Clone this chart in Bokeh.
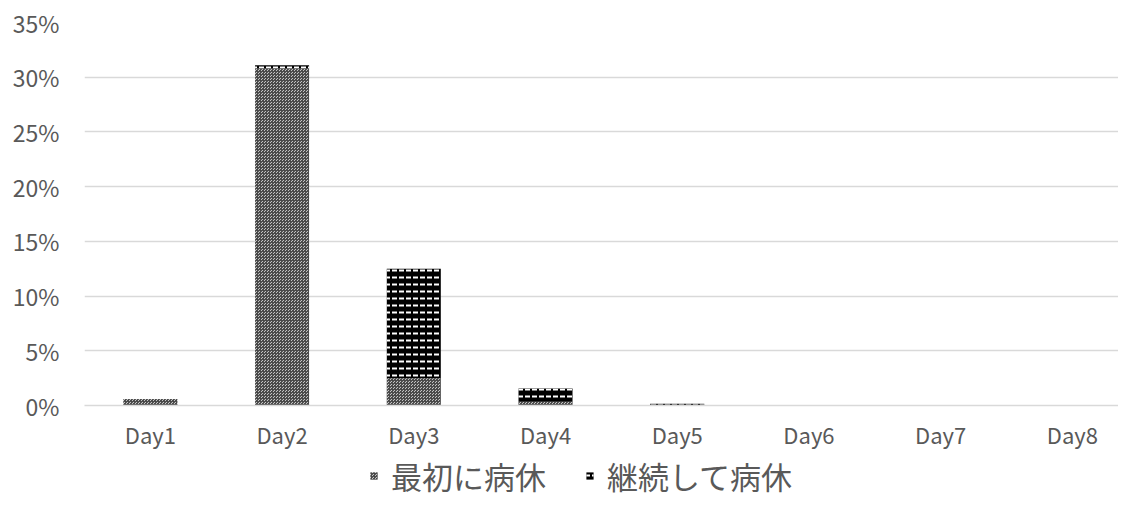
from bokeh.plotting import figure
from bokeh.layouts import column
from bokeh.models import Range1d, FixedTicker, NumeralTickFormatter, Legend, LegendItem, ColumnDataSource
from bokeh.embed import file_html
from bokeh.resources import INLINE

days = ["Day1", "Day2", "Day3", "Day4", "Day5", "Day6", "Day7", "Day8"]
first_sick = [0.006, 0.308, 0.025, 0.0035, 0.0005, 0.0, 0.0, 0.0]
cont_sick = [0.0, 0.003, 0.100, 0.012, 0.001, 0.0, 0.0, 0.0]
series_names = ["最初に病休", "継続して病休"]
y_ticks = [0.0, 0.05, 0.10, 0.15, 0.20, 0.25, 0.30, 0.35]

xpos = [i + 0.5 for i in range(len(days))]
src = ColumnDataSource(dict(x=xpos, first=first_sick, cont=cont_sick))

FONT = "Noto Sans CJK JP"
TXT = "#595959"
STYLE = dict(fill_color=["#c4c4c4", "#000000"], line_color=None,
             hatch_pattern=["criss_cross", "horizontal_dash"],
             hatch_color=["#4a4a4a", "#ffffff"],
             hatch_scale=[3, 7], hatch_weight=[1, 2])

p = figure(width=1118, height=452, output_backend="svg", toolbar_location=None,
           x_range=Range1d(0, 7.85), y_range=Range1d(0, 0.35),
           min_border_left=84, min_border_top=22, min_border_right=0, min_border_bottom=40)
p.outline_line_color = None
p.background_fill_color = "white"
p.border_fill_color = "white"

r = p.vbar_stack(["first", "cont"], x="x", width=0.41, source=src, **STYLE)

p.xaxis.ticker = FixedTicker(ticks=xpos)
p.xaxis.major_label_overrides = {x: d for x, d in zip(xpos, days)}
p.xaxis.major_tick_line_color = None
p.xaxis.minor_tick_line_color = None
p.xaxis.axis_line_color = "#d9d9d9"
p.xaxis.axis_line_width = 1.5
p.xaxis.major_label_text_font = FONT
p.xaxis.major_label_text_font_size = "22px"
p.xaxis.major_label_text_color = TXT
p.xaxis.major_label_standoff = 6

p.yaxis.ticker = FixedTicker(ticks=y_ticks)
p.yaxis.formatter = NumeralTickFormatter(format="0%")
p.yaxis.major_tick_line_color = None
p.yaxis.minor_tick_line_color = None
p.yaxis.axis_line_color = None
p.yaxis.major_label_text_font = FONT
p.yaxis.major_label_text_font_size = "23px"
p.yaxis.major_label_text_color = TXT
p.yaxis.major_label_standoff = 19

p.xgrid.grid_line_color = None
p.ygrid.ticker = FixedTicker(ticks=y_ticks)
p.ygrid.grid_line_color = "#d9d9d9"
p.ygrid.grid_line_width = 1.5

# legend strip below the chart
lg = figure(width=1118, height=46, output_backend="svg", toolbar_location=None,
            x_range=Range1d(0, 1), y_range=Range1d(1000, 1001),
            min_border=0, min_border_left=0, min_border_right=0, min_border_top=0, min_border_bottom=0)
lg.axis.visible = False
lg.grid.visible = False
lg.outline_line_color = None
lr = lg.vbar_stack(["first", "cont"], x="x", width=0.41, source=src, **STYLE)
legend = Legend(items=[LegendItem(label=series_names[0], renderers=[lr[0]]),
                       LegendItem(label=series_names[1], renderers=[lr[1]])],
                orientation="horizontal", location=(285, 0),
                border_line_color=None, background_fill_alpha=0,
                label_text_font=FONT, label_text_font_size="31px", label_text_color=TXT,
                glyph_width=9, glyph_height=9, label_standoff=13, spacing=8,
                label_width=186, padding=0, margin=0)
lg.add_layout(legend, "center")

layout = column(p, lg, spacing=0)
open("out.html", "w").write(file_html(layout, INLINE))
